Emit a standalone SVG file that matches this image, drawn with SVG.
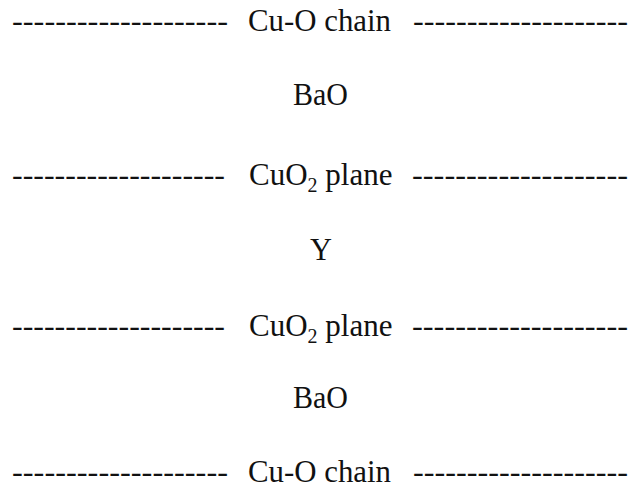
<svg xmlns="http://www.w3.org/2000/svg" width="629" height="493" viewBox="0 0 629 493">
  <style>
    text { font-family: "Liberation Serif", "DejaVu Serif", serif; font-size: 31px; fill: #111; }
    .sub { font-size: 20px; }
  </style>
  <rect width="629" height="493" fill="#fff"/>

  <g id="row1-cuo-chain">
    <text x="12" y="31" textLength="216" lengthAdjust="spacingAndGlyphs">--------------------</text>
    <text x="248" y="31" textLength="143" lengthAdjust="spacingAndGlyphs">Cu-O chain</text>
    <text x="413" y="31" textLength="215" lengthAdjust="spacingAndGlyphs">--------------------</text>
  </g>

  <g id="row2-bao">
    <text x="293" y="105" textLength="55" lengthAdjust="spacingAndGlyphs">BaO</text>
  </g>

  <g id="row3-cuo2-plane">
    <text x="12" y="185" textLength="213" lengthAdjust="spacingAndGlyphs">--------------------</text>
    <text x="249" y="185">CuO<tspan class="sub" dy="7">2</tspan><tspan dy="-7"> plane</tspan></text>
    <text x="412" y="185" textLength="216" lengthAdjust="spacingAndGlyphs">--------------------</text>
  </g>

  <g id="row4-y">
    <text x="310" y="260" textLength="22" lengthAdjust="spacingAndGlyphs">Y</text>
  </g>

  <g id="row5-cuo2-plane">
    <text x="12" y="336" textLength="213" lengthAdjust="spacingAndGlyphs">--------------------</text>
    <text x="249" y="336">CuO<tspan class="sub" dy="7">2</tspan><tspan dy="-7"> plane</tspan></text>
    <text x="412" y="336" textLength="216" lengthAdjust="spacingAndGlyphs">--------------------</text>
  </g>

  <g id="row6-bao">
    <text x="293" y="408" textLength="55" lengthAdjust="spacingAndGlyphs">BaO</text>
  </g>

  <g id="row7-cuo-chain">
    <text x="12" y="482" textLength="216" lengthAdjust="spacingAndGlyphs">--------------------</text>
    <text x="248" y="482" textLength="143" lengthAdjust="spacingAndGlyphs">Cu-O chain</text>
    <text x="413" y="482" textLength="215" lengthAdjust="spacingAndGlyphs">--------------------</text>
  </g>

  <g id="connectors"/>
</svg>
